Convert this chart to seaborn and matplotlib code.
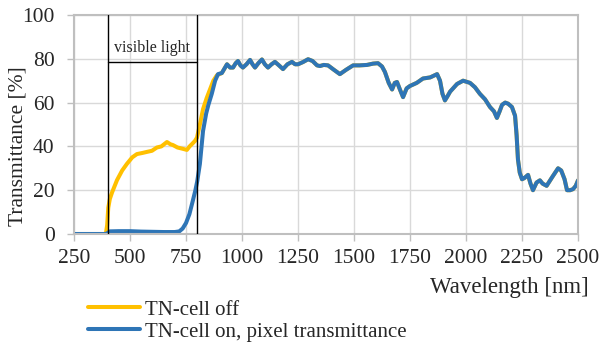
import matplotlib
matplotlib.use("Agg")
import matplotlib.pyplot as plt
import seaborn as sns
import pandas as pd
from matplotlib.lines import Line2D

# Transmittance spectra of a TN cell (wavelength in nm, transmittance in %)
on_wl = [250, 390, 398, 410, 450, 500, 550, 600, 650, 700, 720, 735, 750, 765,
         780, 792, 800, 812, 826, 840, 850, 865, 880, 893]
on_t = [0, 0, 0.3, 1.2, 1.3, 1.3, 1.1, 1.0, 0.9, 0.9, 1.2, 2.5, 5, 9,
        15, 20, 24, 32, 47, 55, 59, 64, 70, 73]

off_wl = [250, 392, 398, 403, 410, 420, 442, 465, 486, 510, 531, 555, 576, 598,
          620, 640, 665, 680, 692, 712, 732, 754, 766, 776, 790, 799, 812, 826,
          842, 857, 872, 888]
off_t = [0, 0, 4, 12, 16, 19, 24.6, 29, 32, 35, 36.5, 37, 37.5, 38,
         39.5, 40, 42, 41, 40.6, 39.5, 39, 38.4, 40, 41, 42.5, 44, 50, 57,
         62, 66, 70, 72.5]

# near-infrared part, where both states transmit alike
nir_wl = [910, 933, 947, 960, 972, 982, 993, 1004, 1020, 1036, 1047, 1058, 1073,
          1089, 1102, 1116, 1132, 1147, 1165, 1183, 1203, 1223, 1237, 1250, 1272,
          1295, 1315, 1335, 1348, 1365, 1384, 1410, 1437, 1465, 1496, 1525, 1558,
          1585, 1607, 1625, 1638, 1655, 1670, 1682, 1692, 1705, 1719, 1735, 1750,
          1780, 1808, 1840, 1871, 1884, 1895, 1906, 1918, 1929, 1960, 1987, 2018,
          2040, 2062, 2085, 2107, 2125, 2138, 2150, 2161, 2175, 2188, 2205, 2219,
          2226, 2232, 2240, 2250, 2260, 2277, 2288, 2299, 2315, 2330, 2342, 2360,
          2385, 2411, 2425, 2440, 2451, 2465, 2478, 2490, 2500]
nir_t = [73.5, 77.5, 76, 76, 78, 79, 77, 76, 77.5, 79.5, 77.5, 76, 78,
         79.7, 77.5, 76, 77.5, 78.6, 77, 75.3, 77.5, 78.6, 77.5, 77.5, 78.5,
         79.8, 79, 77, 76.7, 77.2, 77, 75, 73, 75, 77, 77, 77.2,
         77.8, 78, 76.5, 74, 69, 66, 69, 69.4, 66, 62.5, 66.5, 67.6,
         69, 71, 71.5, 73, 70, 64, 61, 63, 65, 68.5, 70, 69,
         67, 64, 61.5, 58, 56, 53, 56, 59, 60, 59.5, 58, 54,
         45, 34, 28, 25, 25.5, 27, 23, 20, 23.5, 24.5, 23, 22,
         26, 30, 29, 25, 20, 20, 20.5, 22, 24.5]

series_names = ["TN-cell off", "TN-cell on, pixel transmittance"]
visible_range = (400, 800)
visible_label = "visible light"
x_ticks = list(range(250, 2501, 250))
y_ticks = list(range(0, 101, 20))

df = pd.concat([
    pd.DataFrame({"wl": off_wl + nir_wl, "T": off_t + nir_t, "series": series_names[0]}),
    pd.DataFrame({"wl": on_wl + nir_wl, "T": on_t + nir_t, "series": series_names[1]}),
], ignore_index=True)

sns.set_style("white")
plt.rcParams["font.family"] = ["Liberation Serif", "DejaVu Serif"]

colors = ["#FFC000", "#2E75B6"]
grid_c = "#D9D9D9"
frame_c = "#BFBFBF"

fig = plt.figure(figsize=(6.0, 3.48), dpi=100)
ax = fig.add_axes([74 / 600, 1 - 234 / 348, 504 / 600, 219 / 348])

sns.lineplot(data=df, x="wl", y="T", hue="series", palette=colors,
             linewidth=2.9, sort=False, legend=False, ax=ax,
             solid_joinstyle="round", solid_capstyle="round")

# visible-light band marker
ax.plot([visible_range[0]] * 2, [0, 100], color="black", lw=1.0, zorder=4)
ax.plot([visible_range[1]] * 2, [0, 100], color="black", lw=1.0, zorder=4)
ax.plot(list(visible_range), [78.5, 78.5], color="black", lw=1.0, zorder=4)
ax.text(sum(visible_range) / 2, 85, visible_label, ha="center", va="center",
        fontsize=11.5, zorder=5)

ax.set_xlim(x_ticks[0], x_ticks[-1])
ax.set_ylim(y_ticks[0], y_ticks[-1])
ax.set_xticks(x_ticks)
ax.set_yticks(y_ticks)
ax.grid(True, color=grid_c, lw=1.0)
ax.set_axisbelow(True)
for s in ax.spines.values():
    s.set_color(frame_c)
    s.set_linewidth(1.5)
ax.tick_params(axis="both", which="major", length=5, width=1, color=frame_c,
               labelsize=15.5, direction="out", bottom=True, left=True)
ax.tick_params(axis="x", pad=6)
ax.tick_params(axis="y", pad=9)
ax.set_xlabel("")
ax.set_ylabel("")

fig.text(589 / 600, 1 - 288 / 348, "Wavelength [nm]", ha="right", va="center",
         fontsize=16.5)
fig.text(18 / 600, 1 - 146 / 348, "Transmittance [%]", ha="center", va="center",
         rotation=90, fontsize=15.5)

handles = [Line2D([], [], color=c, lw=2.9) for c in colors]
fig.legend(handles, series_names, loc="upper left",
           bbox_to_anchor=(88 / 600, 1 - 300 / 348), frameon=False,
           fontsize=15, handlelength=2.5, handletextpad=0.25, labelspacing=0.12,
           borderpad=0, borderaxespad=0)

fig.savefig("out.png", dpi=100)
